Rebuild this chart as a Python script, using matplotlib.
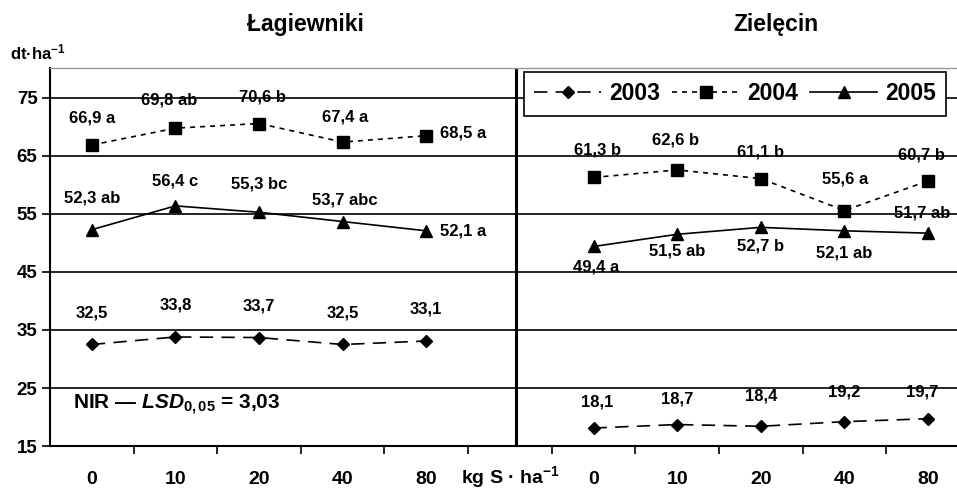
import matplotlib
matplotlib.use("Agg")
import matplotlib.pyplot as plt

plt.rcParams["font.family"] = ["Liberation Sans", "DejaVu Sans"]
plt.rcParams["font.weight"] = "bold"
plt.rcParams["mathtext.fontset"] = "custom"
plt.rcParams["mathtext.rm"] = "Liberation Sans:bold"
plt.rcParams["mathtext.bf"] = "Liberation Sans:bold"
plt.rcParams["mathtext.it"] = "Liberation Sans:italic:bold"

# categories: doses of S for both sites, with the unit label in between
doses = ["0", "10", "20", "40", "80"]
unit_label = "kg S · ha$^{-1}$"
sites = ["Łagiewniki", "Zielęcin"]
years = ["2003", "2004", "2005"]

# yields, dt/ha
lag_2003 = [32.5, 33.8, 33.7, 32.5, 33.1]
lag_2004 = [66.9, 69.8, 70.6, 67.4, 68.5]
lag_2005 = [52.3, 56.4, 55.3, 53.7, 52.1]
ziel_2003 = [18.1, 18.7, 18.4, 19.2, 19.7]
ziel_2004 = [61.3, 62.6, 61.1, 55.6, 60.7]
ziel_2005 = [49.4, 51.5, 52.7, 52.1, 51.7]

# significance letters
lag_2004_let = ["a", "ab", "b", "a", "a"]
lag_2005_let = ["ab", "c", "bc", "abc", "a"]
ziel_2004_let = ["b", "b", "b", "a", "b"]
ziel_2005_let = ["a", "ab", "b", "ab", "ab"]

lsd = "3,03"

W, H = 957, 490
fig = plt.figure(figsize=(W / 100, H / 100), dpi=100)
ax = fig.add_axes([50 / W, 1 - 446 / H, 1 - 50 / W, (446 - 68) / H])

x_left = list(range(5))
x_right = [i + 6 for i in range(5)]

styles = {
    "2003": dict(ls=(0, (8, 5)), marker="D", ms=6.5),
    "2004": dict(ls=(0, (3, 3)), marker="s", ms=8),
    "2005": dict(ls="-", marker="^", ms=8.5),
}
series = {
    "2003": (lag_2003, ziel_2003),
    "2004": (lag_2004, ziel_2004),
    "2005": (lag_2005, ziel_2005),
}
for yr in years:
    left, right = series[yr]
    st = styles[yr]
    ax.plot(x_left, left, color="black", lw=1.2, ls=st["ls"], marker=st["marker"],
            ms=st["ms"], label=yr, zorder=3)
    ax.plot(x_right, right, color="black", lw=1.2, ls=st["ls"], marker=st["marker"],
            ms=st["ms"], zorder=3)


def fmt(v):
    return f"{v:.1f}".replace(".", ",")


def label(xs, vals, letters, offsets, ha=None):
    for i, (x, v, off) in enumerate(zip(xs, vals, offsets)):
        txt = fmt(v) if letters is None else f"{fmt(v)} {letters[i]}"
        h = "center" if ha is None else ha[i]
        ax.annotate(txt, (x, v), xytext=off, textcoords="offset pixels",
                    ha=h, va="center", fontsize=12, fontweight="bold", zorder=4)


# label offsets in pixels
label(x_left, lag_2004, lag_2004_let, [(0, 27), (-6, 28), (3, 27), (2, 25), (14, 3)],
      ["center"] * 4 + ["left"])
label(x_left, lag_2005, lag_2005_let, [(0, 32), (0, 25), (0, 28), (2, 22), (14, 0)],
      ["center"] * 4 + ["left"])
label(x_left, lag_2003, None, [(0, 31), (0, 32), (0, 32), (0, 31), (0, 32)])
label(x_right, ziel_2004, ziel_2004_let, [(4, 27), (-2, 30), (0, 27), (1, 32), (-6, 26)])
label(x_right, ziel_2005, ziel_2005_let, [(3, -21), (0, -17), (0, -19), (0, -22), (-6, 20)])
label(x_right, ziel_2003, None, [(4, 26), (0, 26), (0, 30), (0, 30), (-6, 27)])

ax.set_xlim(-0.5, (W - 92) / 83.6)
ax.set_ylim(15, 15 + (446 - 68) / 5.8)
ax.set_yticks(range(15, 80, 10))
ax.tick_params(axis="y", labelsize=13.5, length=6, width=1.2, pad=3)
ax.set_xticks(range(11))
ax.set_xticklabels(doses + [unit_label] + doses)
ax.set_xticks([i + 0.5 for i in range(10)], minor=True)
ax.tick_params(axis="x", which="major", length=0, labelsize=14, pad=27)
ax.tick_params(axis="x", which="minor", length=6, width=1.2)
for t in ax.get_xticklabels():
    t.set_va("baseline")

for y in range(25, 80, 10):
    ax.axhline(y, color="black", lw=1.2, zorder=1)
ax.axvline(5.07, ymin=0.008, ymax=1, color="black", lw=2.2, zorder=2)

for s in ["left", "bottom"]:
    ax.spines[s].set_linewidth(1.5)
ax.spines["top"].set_color("#999999")
ax.spines["top"].set_linewidth(1)
ax.spines["right"].set_visible(False)

leg = ax.legend(loc="upper left", bbox_to_anchor=(0.5226, 0.989), ncol=3,
                fontsize=16.5, handlelength=2.9, handletextpad=0.35, columnspacing=0.55,
                borderpad=0.45, fancybox=False, edgecolor="black", framealpha=1,
                borderaxespad=0, numpoints=1)
leg.get_frame().set_linewidth(1.2)

fig.text(305 / W, 1 - 24 / H, sites[0], ha="center", va="center", fontsize=16.5, fontweight="bold")
fig.text(776 / W, 1 - 24 / H, sites[1], ha="center", va="center", fontsize=16.5, fontweight="bold")
fig.text(10 / W, 1 - 52 / H, "dt·ha$^{-1}$", ha="left", va="center", fontsize=12)
fig.text(73 / W, 1 - 405 / H, "NIR — $LSD_{\\mathit{0,05}}$ = " + lsd,
         ha="left", va="center", fontsize=15, fontweight="bold")

fig.savefig("out.png", dpi=100)
